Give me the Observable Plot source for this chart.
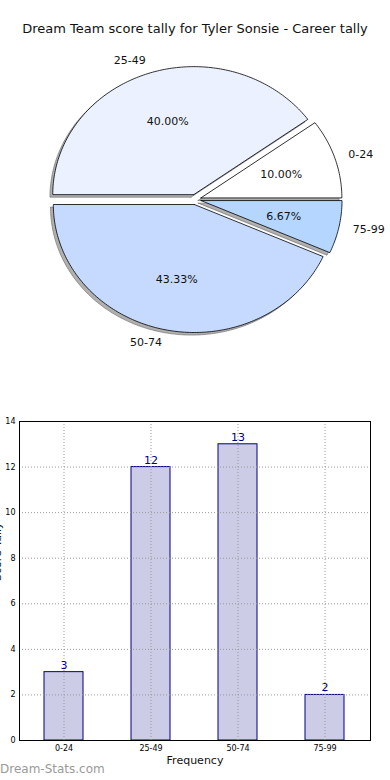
<!DOCTYPE html>
<html><head><meta charset="utf-8">
<script src="https://cdn.jsdelivr.net/npm/d3@7"></script>
<script src="https://cdn.jsdelivr.net/npm/@observablehq/plot@0.6"></script>
<style>
body{margin:0;background:#fff;font-family:"DejaVu Sans",sans-serif;}
#wrap{position:relative;width:390px;height:780px;overflow:hidden;}
#title{position:absolute;left:0;width:390px;top:21px;text-align:center;font-size:13px;line-height:16px;color:#111;white-space:nowrap;}
#pie{position:absolute;left:0;top:45px;}
#bar{position:absolute;left:0;top:400px;}
#wm{position:absolute;left:0;top:762px;font-size:12px;line-height:15px;color:#9a9a9a;}
</style></head><body>
<div id="wrap">
<div id="title">Dream Team score tally for Tyler Sonsie - Career tally</div>
<div id="pie"></div>
<div id="bar"></div>
<div id="wm">Dream-Stats.com</div>
</div>
<script>
const categories = ["0-24", "25-49", "50-74", "75-99"];
const counts = [3, 12, 13, 2];
const pieColors = ["#ffffff", "#ebf1fe", "#c6d9ff", "#b4d6ff"];
const yTicks = [0, 2, 4, 6, 8, 10, 12, 14];

const total = d3.sum(counts);
const explode = 0.04;
let cum = 0;
const wedges = categories.map((c, i) => {
  const a0 = cum / total * 2 * Math.PI;
  cum += counts[i];
  const a1 = cum / total * 2 * Math.PI;
  const mid = (a0 + a1) / 2;
  return {c, a0, a1, mid, cx: explode * Math.cos(mid), cy: explode * Math.sin(mid), pct: counts[i] / total * 100};
});
const pts = [];
for (const w of wedges) {
  pts.push({c: w.c, x: w.cx, y: w.cy});
  const n = Math.max(2, Math.ceil((w.a1 - w.a0) / (Math.PI / 180)));
  for (let k = 0; k <= n; k++) {
    const a = w.a0 + (w.a1 - w.a0) * k / n;
    pts.push({c: w.c, x: w.cx + Math.cos(a), y: w.cy + Math.sin(a)});
  }
  pts.push({c: w.c, x: w.cx, y: w.cy});
}
const shadowPts = pts.map(p => ({c: p.c, x: p.x - 0.02, y: p.y - 0.02}));
const labels = wedges.map(w => ({
  c: w.c,
  x: w.cx + 1.1 * Math.cos(w.mid), y: w.cy + 1.1 * Math.sin(w.mid),
  px: w.cx + 0.6 * Math.cos(w.mid), py: w.cy + 0.6 * Math.sin(w.mid),
  pct: w.pct.toFixed(2) + "%", left: Math.cos(w.mid) < 0
}));

const pie = Plot.plot({
  width: 390, height: 330, margin: 0,
  style: {fontFamily: "DejaVu Sans, sans-serif", background: "transparent"},
  x: {domain: [-195 / 141, 195 / 141], axis: null},
  y: {domain: [-176 / 128, 154 / 128], axis: null},
  color: {type: "ordinal", domain: categories, range: pieColors},
  marks: [
    Plot.line(shadowPts, {x: "x", y: "y", z: "c", fill: "#8f8f8f", fillOpacity: 0.7, stroke: "#666", strokeWidth: 0.6}),
    Plot.line(pts, {x: "x", y: "y", z: "c", fill: "c", stroke: "#000", strokeWidth: 0.8}),
    Plot.text(labels.filter(d => d.left), {x: "x", y: "y", text: "c", textAnchor: "end", fontSize: 11, fill: "#111"}),
    Plot.text(labels.filter(d => !d.left), {x: "x", y: "y", text: "c", textAnchor: "start", fontSize: 11, fill: "#111"}),
    Plot.text(labels, {x: "px", y: "py", text: "pct", fontSize: 11, fill: "#111"})
  ]
});
document.getElementById("pie").appendChild(pie);

const barData = categories.map((c, i) => ({c, v: counts[i]}));
const bar = Plot.plot({
  width: 390, height: 375, marginTop: 21, marginBottom: 35, marginLeft: 19, marginRight: 20,
  style: {fontFamily: "DejaVu Sans, sans-serif", background: "transparent", overflow: "visible"},
  x: {domain: categories, paddingInner: 0.55, paddingOuter: 0.275, axis: null},
  y: {domain: [0, 14], axis: null},
  marks: [
    Plot.barY(barData, {x: "c", y: "v", fill: "#ccccE6", stroke: "#000080", strokeWidth: 1}),
    Plot.gridY(yTicks, {stroke: "#9a9a9a", strokeOpacity: 1, strokeDasharray: "1,2"}),
    Plot.gridX(categories, {stroke: "#9a9a9a", strokeOpacity: 1, strokeDasharray: "1,2"}),
    Plot.frame({stroke: "#000"}),
    Plot.axisY(yTicks, {tickSize: 0, tickPadding: 4, fontSize: 8, label: null}),
    Plot.axisX(categories, {tickSize: 0, tickPadding: 5, fontSize: 8, label: null}),
    Plot.text(["Frequency"], {frameAnchor: "bottom", lineAnchor: "middle", dy: 20, fontSize: 11, fill: "#111"}),
    Plot.text(["Score Tally"], {frameAnchor: "left", lineAnchor: "middle", rotate: -90, dx: -22, fontSize: 11, fill: "#111"}),
    Plot.text(barData, {x: "c", y: "v", text: d => String(d.v), dy: -7, fill: "#000080", fontSize: 11})
  ]
});
document.getElementById("bar").appendChild(bar);
</script>
</body></html>
